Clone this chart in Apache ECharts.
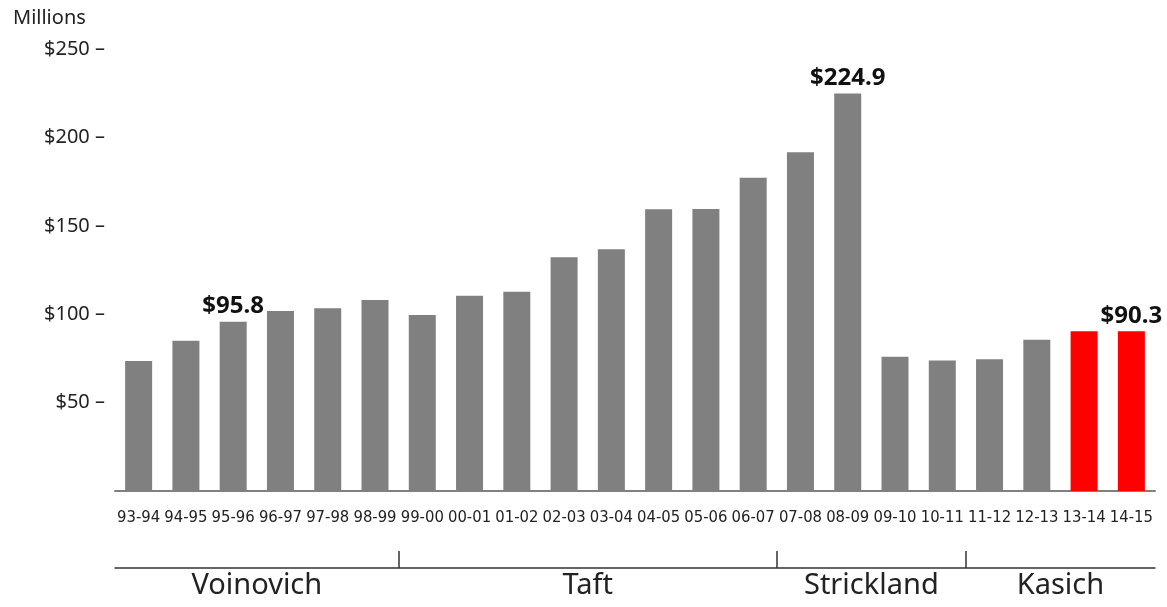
<!DOCTYPE html>
<html>
<head>
<meta charset="utf-8">
<script src="https://cdn.jsdelivr.net/npm/echarts@6/dist/echarts.min.js"></script>
<style>
  html, body { margin: 0; padding: 0; background: #fff; }
  #main { width: 1167px; height: 607px; }
</style>
</head>
<body>
<div id="main"></div>
<script>
// fiscal years
const years = ['93-94', '94-95', '95-96', '96-97', '97-98', '98-99', '99-00', '00-01', '01-02',
  '02-03', '03-04', '04-05', '05-06', '06-07', '07-08', '08-09', '09-10', '10-11',
  '11-12', '12-13', '13-14', '14-15'];
// millions of dollars
const amounts = [73.5, 85.0, 95.8, 101.8, 103.3, 108.0, 99.5, 110.5, 112.7, 132.2, 136.7,
  159.3, 159.5, 177.2, 191.6, 224.9, 76.0, 73.8, 74.5, 85.6, 90.3, 90.3];
const redYears = ['13-14', '14-15'];
const calloutYears = ['95-96', '08-09', '14-15'];
const yTicks = [50, 100, 150, 200, 250];

// governors and the year index each term starts at
const governors = ['Voinovich', 'Taft', 'Strickland', 'Kasich'];
const govStarts = [0, 6, 14, 18, 22];

const govMids = governors.map((g, i) => (govStarts[i] + govStarts[i + 1]) / 2);

const myChart = echarts.init(document.getElementById('main'));

myChart.setOption({
  animation: false,
  title: {
    text: 'Millions',
    left: 8,
    top: 3,
    textStyle: { fontFamily: 'Noto Sans', fontWeight: 'normal', fontSize: 20, color: '#222' }
  },
  grid: { left: 115, right: 12, top: 49, bottom: 116 },
  xAxis: [
    {
      type: 'category',
      data: years,
      axisLine: { lineStyle: { color: '#808080', width: 2 } },
      axisTick: { show: false },
      axisLabel: {
        interval: 0,
        margin: 18,
        color: '#222',
        fontFamily: 'DejaVu Sans Condensed',
        fontSize: 16.5
      }
    },
    {
      type: 'value',
      position: 'bottom',
      offset: 77,
      min: 0,
      max: years.length,
      splitLine: { show: false },
      axisLine: { show: true, onZero: false, lineStyle: { color: '#333', width: 1.5 } },
      axisTick: {
        show: true,
        inside: true,
        length: 17,
        customValues: govStarts.slice(1, -1),
        lineStyle: { color: '#333', width: 1.5 }
      },
      axisLabel: {
        customValues: govMids,
        margin: 3,
        color: '#222',
        fontFamily: 'Noto Sans',
        fontSize: 29,
        formatter(v) {
          return governors[govMids.indexOf(v)] || '';
        }
      }
    }
  ],
  yAxis: {
    type: 'value',
    min: 0,
    max: 250,
    interval: 50,
    axisLine: { show: false },
    axisTick: { show: false },
    splitLine: { show: false },
    axisLabel: {
      margin: 10,
      color: '#222',
      fontFamily: 'Noto Sans',
      fontSize: 20,
      formatter(v) {
        return yTicks.includes(v) ? `$${v} \u2013` : '';
      }
    }
  },
  series: [
    {
      type: 'bar',
      barWidth: 27,
      data: amounts.map((v, i) => ({
        value: v,
        itemStyle: { color: redYears.includes(years[i]) ? '#ff0000' : '#808080' },
        label: {
          show: calloutYears.includes(years[i]),
          position: 'top',
          distance: 3,
          color: '#111',
          fontFamily: 'Noto Sans',
          fontWeight: 'bold',
          fontSize: 24,
          formatter: p => `$${p.value.toFixed(1)}`
        }
      }))
    }
  ]
});
</script>
</body>
</html>
